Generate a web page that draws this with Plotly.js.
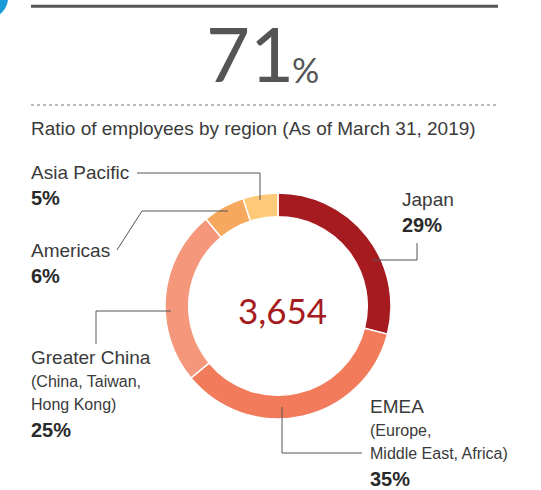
<!DOCTYPE html>
<html>
<head>
<meta charset="utf-8">
<script src="https://cdn.plot.ly/plotly-3.0.1.min.js"></script>
<style>html,body{margin:0;padding:0;background:#fff;}#chart{width:541px;height:490px;}</style>
</head>
<body>
<div id="chart"></div>
<script>
// ---- data ----
var regions = ['Japan', 'EMEA', 'Greater China', 'Americas', 'Asia Pacific'];
var shares = [29, 35, 25, 6, 5];
var subLabels = ['', '(Europe,|Middle East, Africa)', '(China, Taiwan,|Hong Kong)', '', ''];
var sliceColors = ['#a51b20', '#f27b5b', '#f5977b', '#f7a85f', '#fec978'];
var totalEmployees = '3,654';
var headlineValue = '71';
var chartTitle = 'Ratio of employees by region (As of March 31, 2019)';

// ---- layout helpers ----
var W = 541, H = 490;
function px(x) { return x / W; }
function py(y) { return 1 - y / H; }

var labelPos = [
  {x: 400, y: 199},   // Japan
  {x: 368, y: 406},   // EMEA
  {x: 29,  y: 357},   // Greater China
  {x: 29,  y: 250},   // Americas
  {x: 29,  y: 172}    // Asia Pacific
];
var leaderPaths = [
  [[373, 260], [417, 260], [417, 243]],
  [[282, 407], [282, 453], [362, 453]],
  [[171, 311], [96, 311], [96, 344]],
  [[228, 211], [142, 211], [117, 250]],
  [[137, 173], [260, 173], [260, 200]]
];

var FONT = 'Liberation Sans, Arial, sans-serif';
var annotations = [];
var shapes = [];

regions.forEach(function (r, i) {
  var p = labelPos[i];
  var y = p.y;
  annotations.push({text: r, x: px(p.x), y: py(y), xref: 'paper', yref: 'paper',
    xanchor: 'left', yanchor: 'middle', showarrow: false,
    font: {family: FONT, size: 19, color: '#3a3a3a'}});
  y += 24;
  if (subLabels[i]) {
    subLabels[i].split('|').forEach(function (s) {
      annotations.push({text: s, x: px(p.x), y: py(y), xref: 'paper', yref: 'paper',
        xanchor: 'left', yanchor: 'middle', showarrow: false,
        font: {family: FONT, size: 16, color: '#3a3a3a'}});
      y += 23.5;
    });
    y += 2;
  } else {
    y += 2;
  }
  annotations.push({text: '<b>' + shares[i] + '%</b>', x: px(p.x), y: py(y), xref: 'paper', yref: 'paper',
    xanchor: 'left', yanchor: 'middle', showarrow: false,
    font: {family: FONT, size: 20, color: '#2a2a2a'}});

  var pts = leaderPaths[i];
  var d = 'M' + pts.map(function (q) { return px(q[0]) + ',' + py(q[1]); }).join(' L');
  shapes.push({type: 'path', xref: 'paper', yref: 'paper', path: d,
    line: {color: '#555', width: 1}});
});

// headline
annotations.push({text: headlineValue, x: px(250), y: py(53), xref: 'paper', yref: 'paper',
  xanchor: 'center', yanchor: 'middle', showarrow: false,
  font: {family: 'Lato, sans-serif', size: 76, color: '#555'}});
annotations.push({text: '%', x: px(290), y: py(69), xref: 'paper', yref: 'paper',
  xanchor: 'left', yanchor: 'middle', showarrow: false,
  font: {family: 'Lato, sans-serif', size: 34, color: '#555'}});
annotations.push({text: chartTitle, x: px(29), y: py(128), xref: 'paper', yref: 'paper',
  xanchor: 'left', yanchor: 'middle', showarrow: false,
  font: {family: FONT, size: 19, color: '#3a3a3a'}});
annotations.push({text: totalEmployees, x: px(282), y: py(310), xref: 'paper', yref: 'paper',
  xanchor: 'center', yanchor: 'middle', showarrow: false,
  font: {family: 'Lato, sans-serif', size: 35, color: '#a51b20'}});

// decorative rules
shapes.push({type: 'line', xref: 'paper', yref: 'paper', x0: px(31), x1: px(498), y0: py(6.3), y1: py(6.3),
  line: {color: '#555', width: 3}});
shapes.push({type: 'line', xref: 'paper', yref: 'paper', x0: px(31), x1: px(496), y0: py(105), y1: py(105),
  line: {color: '#777', width: 1, dash: '3px,3px'}});
shapes.push({type: 'circle', xref: 'paper', yref: 'paper', x0: px(-32), x1: px(8), y0: py(-22), y1: py(18),
  fillcolor: '#1a9ad6', line: {width: 0}});

var data = [{
  type: 'pie',
  values: shares,
  labels: regions,
  sort: false,
  direction: 'clockwise',
  rotation: 0,
  hole: 0.79,
  marker: {colors: sliceColors, line: {color: '#ffffff', width: 1.5}},
  textinfo: 'none',
  hoverinfo: 'none',
  showlegend: false,
  domain: {x: [px(165), px(391)], y: [py(419), py(193)]}
}];

var layout = {
  width: W, height: H,
  margin: {l: 0, r: 0, t: 0, b: 0},
  paper_bgcolor: '#fff',
  plot_bgcolor: '#fff',
  showlegend: false,
  annotations: annotations,
  shapes: shapes
};

Plotly.newPlot('chart', data, layout, {displayModeBar: false, staticPlot: true});
</script>
</body>
</html>
